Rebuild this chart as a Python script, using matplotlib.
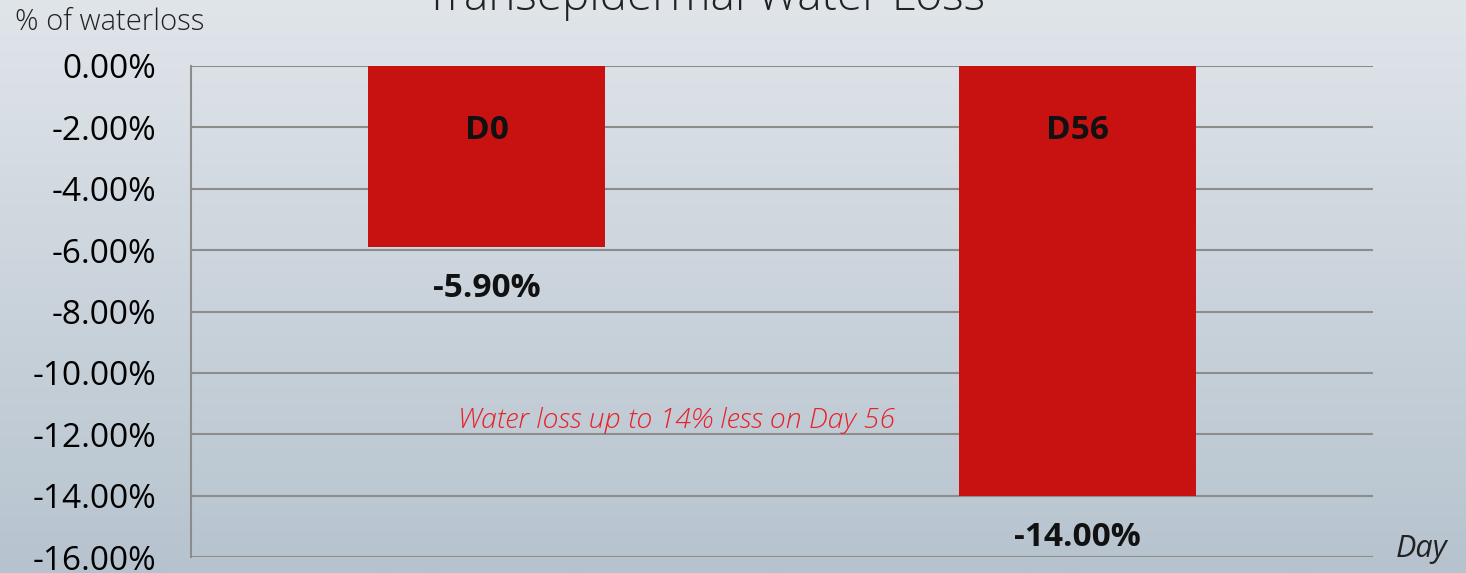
import numpy as np
import matplotlib.pyplot as plt

# data
days = ["D0", "D56"]
loss = [-5.90, -14.00]  # % of waterloss
yticks = np.arange(0, -17, -2)

fig = plt.figure(figsize=(14.66, 5.73), dpi=100)

# soft grey-blue backdrop, lighter at the top
bg = fig.add_axes([0, 0, 1, 1], zorder=-10)
grad = np.linspace(0, 1, 256).reshape(-1, 1)
bg.imshow(grad, aspect="auto", extent=[0, 1, 0, 1],
          cmap=plt.matplotlib.colors.LinearSegmentedColormap.from_list(
              "bg", ["#e0e5ea", "#b6c3ce"]))
bg.axis("off")

ax = fig.add_axes([191 / 1466, 16 / 573, (1373 - 191) / 1466, (557 - 66) / 573])
ax.set_facecolor("none")

x = np.arange(len(days))
ax.bar(x, loss, width=0.4, color="#c81212", zorder=3)
ax.set_xlim(-0.5, 1.5)
ax.set_ylim(-16, 0)

ax.set_yticks(yticks)
ax.set_yticklabels([f"{v:.2f}%" for v in yticks], fontsize=24, family="Open Sans")
ax.tick_params(axis="y", length=0, pad=25)
ax.set_xticks([])
ax.grid(axis="y", color="#8c8c8c", lw=1.5, zorder=1)
for s in ["top", "right", "bottom"]:
    ax.spines[s].set_visible(False)
ax.spines["left"].set_color("#8c8c8c")
ax.spines["left"].set_linewidth(1.5)

for xi, d, v in zip(x, days, loss):
    ax.text(xi, -2.1, d, ha="center", va="center", fontsize=24,
            fontweight="bold", family="Open Sans", color="#111111", zorder=4)
    ax.text(xi, v - 1.35, f"{v:.2f}%", ha="center", va="center", fontsize=24,
            fontweight="bold", family="Open Sans", color="#111111", zorder=4)

fig.text(458 / 1466, 1 - 421 / 573, "Water loss up to 14% less on Day 56",
         ha="left", va="center", fontsize=20.5, style="italic",
         family="Open Sans", color="#e8202a", fontweight="light")
fig.text(1396 / 1466, 1 - 549 / 573, "Day", ha="left", va="center",
         fontsize=22, style="italic", family="Open Sans", color="#222222")
fig.text(15 / 1466, 1 - 22 / 573, "% of waterloss", ha="left", va="center",
         fontsize=21, family="Open Sans", color="#222222", fontweight="light")
fig.text(705 / 1466, 1 - 10 / 573, "Transepidermal Water Loss", ha="center",
         va="baseline", fontsize=33, family="Open Sans", color="#222222",
         fontweight="light")

fig.savefig("out.png", dpi=100)
